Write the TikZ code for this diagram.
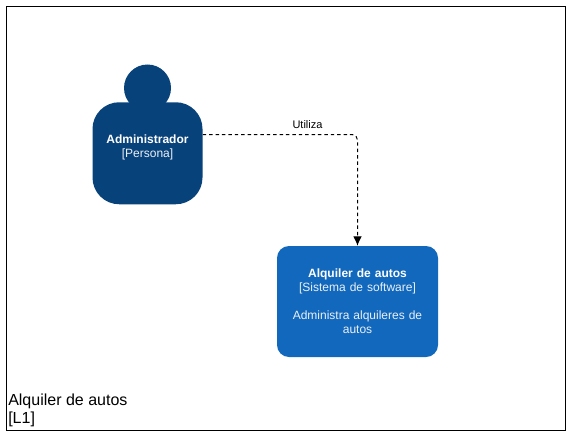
\documentclass[tikz,border=0pt]{standalone}
\usepackage{fontspec}
\setmainfont{Liberation Sans}
\usepackage{xcolor}
\usetikzlibrary{positioning,arrows.meta}
\definecolor{personblue}{HTML}{08427B}
\definecolor{systemblue}{HTML}{1168BD}
\definecolor{labelgray}{RGB}{235, 240, 245}

\begin{document}
\begin{tikzpicture}[
  x=0.75pt, y=-0.75pt,
  frame/.style={rectangle, draw=black, line width=0.75pt, minimum width=419.25pt, minimum height=318pt, inner sep=0pt},
  head/.style={circle, fill=personblue, minimum size=35.25pt, inner sep=0pt},
  body/.style={rectangle, rounded corners=20pt, fill=personblue, minimum width=82.5pt, minimum height=76.5pt,
               text width=82.5pt, align=center, inner sep=0pt, text=white, font=\fontsize{9}{10.5}\selectfont},
  softbox/.style={rectangle, rounded corners=9pt, fill=systemblue, minimum width=120.75pt, minimum height=83.25pt,
               text width=114pt, align=center, inner sep=0pt, text=white, font=\fontsize{9}{10.5}\selectfont},
  arrow/.style={-{Latex[length=7pt,width=6.5pt]}, dashed, dash pattern=on 2.6pt off 2.2pt, line width=0.75pt, rounded corners=4pt},
  label/.style={font=\fontsize{8.25}{10}\selectfont, inner sep=0pt},
  title/.style={font=\fontsize{12}{13.5}\selectfont, align=left, inner sep=0pt, anchor=south west}
]
\useasboundingbox (0,0) rectangle (570,435);

\node[frame] (frame) at (285.5,218.5) {};
\node[head] (head) at (147.5,88) {};
\node[body] (admin) at (147.5,153.25) {\textbf{Administrador}\\\textcolor{labelgray}{[Persona]}\\\mbox{}};
\node[softbox] (system) at (357.5,301.5) {\textbf{Alquiler de autos}\\\textcolor{labelgray}{[Sistema de software]}\\[10.5pt]\textcolor{labelgray}{Administra alquileres de\\autos}};

\coordinate (bend) at (357.5,134.5);
\draw[arrow] (admin.east |- bend) -- (bend) -- (system.north -| bend);
\node[label] (uses) at (307.5,125) {Utiliza};

\node[title] (caption) at (8,427.5) {Alquiler de autos\\{[L1]}};
\end{tikzpicture}
\end{document}
